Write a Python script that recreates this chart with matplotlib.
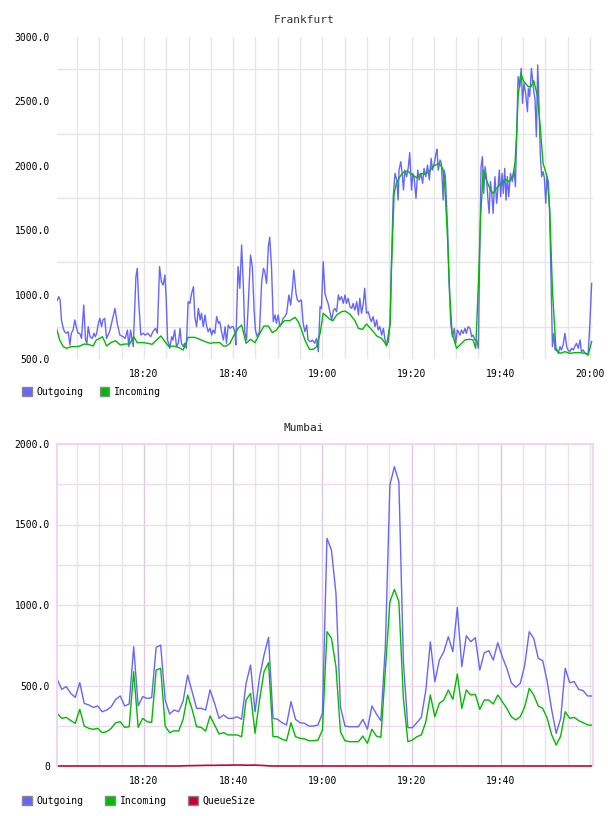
import numpy as np
import matplotlib
matplotlib.use('Agg')
import matplotlib.pyplot as plt
from matplotlib.patches import Patch
from matplotlib.ticker import FuncFormatter

# times are minutes after 18:00
fra_out_t = [0.4, 0.9, 1.2, 1.5, 1.9, 2.2, 2.6, 3.0, 3.4, 3.7, 4.1, 4.5, 4.9, 5.2, 5.6, 6.0, 6.5, 6.9, 7.2, 7.5,
             7.9, 8.4, 8.8, 9.1, 9.4, 9.7, 10.1, 10.5, 10.8, 11.2, 11.6, 12.3, 12.9, 13.5, 14.0, 14.6, 15.3, 15.8,
             16.3, 16.6, 17.0, 17.6, 18.2, 18.5, 18.8, 19.3, 19.8, 20.3, 20.9, 21.5, 22.0, 22.6, 23.0, 23.5, 23.9,
             24.3, 24.7, 25.0, 25.3, 25.8, 26.2, 26.5, 26.9, 27.3, 27.7, 28.1, 28.4, 28.8, 29.1, 29.5, 29.9,
             30.3, 30.7, 31.1, 31.4, 31.8, 32.2, 32.6, 32.9, 33.3, 33.7, 34.0, 34.4, 34.8, 35.2, 35.5, 35.9, 36.3,
             36.7, 37.0, 37.4, 37.8, 38.2, 38.5, 38.9, 39.3, 39.7, 40.0, 40.4, 40.6, 41.1, 41.5, 41.9, 42.3, 42.6,
             43.0, 43.4, 43.9, 44.3, 44.7, 45.0, 45.4, 45.9, 46.4, 46.8, 47.1, 47.5, 47.9, 48.2, 48.6, 49.0, 49.4,
             49.7, 50.1, 50.5, 50.9, 51.2, 51.6, 52.0, 52.5, 52.9, 53.3, 53.6, 54.1, 54.4, 54.8, 55.3, 55.7, 56.1,
             56.5, 56.8, 57.4, 57.8, 58.3, 58.7, 59.1, 59.5, 59.8, 60.2,
             60.6, 61.0, 61.3, 61.7, 62.1, 62.5, 62.8, 63.2, 63.6, 63.9, 64.3, 64.7, 65.1, 65.4, 65.8, 66.2, 66.6,
             66.9, 67.3, 67.7, 68.1, 68.4, 68.8, 69.2, 69.5, 69.9, 70.3, 70.7, 71.0, 71.4, 71.8, 72.2, 72.5, 72.9,
             73.3, 73.7, 74.0, 74.4, 74.8, 75.2, 75.5, 75.9, 76.3, 76.7, 77.0, 77.2, 77.6, 77.9, 78.2, 78.5, 78.9,
             79.3, 79.6, 80.0, 80.3, 80.6, 81.0, 81.4, 81.7, 82.1, 82.5, 82.8, 83.2, 83.6, 84.0, 84.4, 84.7, 85.1,
             85.5, 85.7, 86.0, 86.4, 86.7, 87.1, 87.3, 87.6, 88.1, 88.4, 88.8, 89.2, 89.6, 89.9, 90.3,
             90.9, 91.2, 91.6, 92.0, 92.3, 92.7, 93.1, 93.5, 93.8, 94.2, 94.6, 95.0, 95.2, 95.6, 95.9, 96.2, 96.5,
             96.8, 97.1, 97.4, 97.7, 98.0, 98.3, 98.7, 99.1, 99.4, 99.7, 100.0, 100.3, 100.6, 100.9, 101.2, 101.5,
             101.8, 102.2, 102.6, 103.0, 103.3, 103.6, 103.9, 104.3, 104.6, 104.9, 105.2, 105.6, 106.0, 106.2,
             106.5, 106.9, 107.3, 107.7, 108.0, 108.3, 108.6, 108.9, 109.2, 109.5, 109.8, 110.1, 110.4, 110.7,
             111.0, 111.3, 111.6, 111.9, 112.2, 112.5, 112.9, 113.3, 113.6, 114.0, 114.4, 114.8, 115.1, 115.5,
             115.9, 116.3, 116.6, 117.0, 117.4, 117.8, 118.1, 118.5, 118.9, 119.3, 119.6, 120.0, 120.4]
fra_out = [945, 984, 958, 803, 738, 712, 700, 712, 609, 700, 725, 803, 738, 700, 700, 660, 919, 647, 622, 751,
           673, 660, 700, 673, 700, 764, 816, 751, 803, 816, 660, 712, 803, 893, 777, 686, 673, 660,
           725, 596, 725, 596, 1139, 1204, 958, 686, 700, 686, 700, 673, 712, 738, 700, 1217, 1100,
           1074, 1152, 958, 647, 583, 673, 647, 725, 596, 622, 738, 622, 596, 622, 583, 945,
           932, 1010, 1062, 829, 751, 893, 803, 855, 751, 842, 764, 712, 738, 686, 725, 700, 829,
           777, 790, 712, 647, 751, 622, 764, 738, 751, 751, 712, 609, 1217, 1049, 1385, 1062, 712,
           647, 932, 1307, 1217, 880, 725, 673, 712, 1100, 1204, 1178, 1087, 1372, 1445, 1217, 790, 842,
           777, 842, 751, 777, 816, 829, 855, 997, 919, 1049, 1191, 1010, 958, 945, 958, 777, 712,
           764, 647, 635, 647, 622, 660, 557, 906, 893, 1256,
           1010, 958, 932, 867, 803, 880, 893, 867, 997, 958, 984, 932, 997, 932, 971, 906, 893,
           932, 880, 945, 842, 971, 855, 932, 1049, 855, 867, 816, 790, 829, 751, 803, 725, 751,
           686, 738, 660, 609, 635, 777, 1243, 1760, 1941, 1890, 1734, 1967, 2032, 1941, 1812, 1967, 1916,
           1993, 2102, 1812, 1941, 1903, 1747, 1967, 1890, 1941, 1864, 1980, 1916, 2006, 1890, 2058, 1967, 2019,
           2097, 2128, 1967, 2045, 2019, 1734, 1967, 1916, 1502, 1113, 777, 673, 738, 622, 725,
           686, 725, 699, 738, 699, 751, 738, 673, 686, 648, 648, 583, 1087, 1993, 2071, 1786, 1993,
           1916, 1760, 1631, 1877, 1786, 1631, 1916, 1709, 1838, 1967, 1760, 1941, 1786, 1980, 1734, 1916,
           1760, 1941, 1877, 1967, 1838, 2252, 2692, 2614, 2757, 2485, 2640, 2563, 2420, 2601,
           2537, 2757, 2614, 2511, 2226, 2783, 2459, 2071, 1916, 1955, 1903, 1709, 1916, 1877,
           1605, 1087, 596, 699, 570, 583, 544, 596, 570, 609, 699, 596, 570, 557,
           583, 570, 596, 622, 583, 648, 557, 570, 544, 544, 531, 777, 1087]

fra_in_t = [0.4, 1.1, 1.9, 2.6, 3.7, 4.9, 5.6, 6.6, 7.5, 8.6, 9.3, 10.1, 10.7, 11.2, 11.6, 12.6, 13.6, 14.7,
            15.7, 16.8, 17.7, 18.5, 19.8, 20.9, 21.8, 22.8, 23.8, 24.7, 25.6, 26.5, 27.7, 28.8, 29.1, 29.9,
            31.4, 32.5, 33.7, 34.8, 35.9, 37.0, 37.8, 38.5, 39.3, 40.0, 41.1, 41.9, 42.9, 43.9, 44.9, 46.0,
            46.9, 47.9, 48.8, 49.7, 50.5, 51.6, 52.7, 53.9, 54.6, 55.3, 56.1, 57.1, 58.0, 58.7, 59.5, 60.2,
            60.6, 61.7, 62.4, 63.2, 64.3, 65.1, 66.2, 67.3, 68.1, 69.0, 69.9, 71.0, 72.2, 73.3, 74.0, 74.4,
            75.2, 75.5, 76.1, 76.6, 77.4, 78.1, 79.1, 80.2, 81.1, 82.1, 83.0, 83.9, 84.9, 86.2, 87.0, 87.5,
            88.1, 88.6, 89.1, 90.1, 90.85, 92.0, 93.1, 93.8, 94.4, 95.0, 95.5, 96.1, 96.8, 97.7, 98.3, 99.1,
            100.0, 101.0, 101.9, 102.7, 103.2, 103.6, 103.9, 104.5, 105.2, 106.2, 106.8, 107.4, 108.2,
            108.8, 109.5, 110.4, 111.0, 111.6, 112.4, 113.3, 114.4, 115.5, 116.6, 117.8, 118.9, 119.6, 120.4]
fra_in = [738, 647, 596, 583, 596, 596, 601, 616, 614, 601, 647, 660, 673, 635, 601, 627, 642, 609,
          616, 616, 673, 627, 627, 622, 614, 647, 679, 635, 596, 601, 591, 570, 596, 668,
          668, 653, 635, 622, 627, 627, 601, 601, 622, 673, 738, 764, 622, 653, 627, 699,
          756, 756, 704, 725, 764, 798, 798, 823, 790, 730, 647, 575, 575, 596, 699, 855,
          842, 808, 798, 842, 867, 873, 847, 798, 738, 730, 772, 730, 679, 660, 627, 601,
          777, 1191, 1786, 1864, 1916, 1949, 1960, 1929, 1908, 1941, 1934, 1954, 1998, 2019, 1980, 1825,
          1424, 984, 699, 583, 609, 648, 653, 648, 583, 1087, 1605, 1967, 1890, 1812, 1786, 1825,
          1864, 1895, 1877, 1916, 2019, 2252, 2537, 2718, 2653, 2614, 2614, 2661, 2550,
          2330, 2019, 1916, 1657, 1036, 570, 544, 557, 544, 549, 549, 544, 531, 635]

# Mumbai, one sample per minute from 18:00:34
mum_start = 0.56
mum_step = 1.008
mum_out = [538, 476, 493, 451, 426, 518, 389, 379, 364, 373,
           337, 348, 368, 414, 435, 373, 385, 741, 373, 431,
           420, 424, 737, 751, 410, 323, 348, 337, 404, 565,
           462, 358, 358, 348, 472, 389, 296, 317, 296, 296,
           306, 290, 513, 627, 337, 551, 689, 799, 296, 290,
           269, 255, 400, 290, 269,
           265, 248, 248, 255, 327, 1414, 1341, 1072, 368, 248,
           244, 244, 244, 290, 228, 373, 323, 282, 750, 1745,
           1859, 1766, 650, 238, 238, 269, 302, 472, 772, 524,
           658, 710, 803, 710, 985, 617, 809, 772, 797, 596,
           704, 716, 658, 766, 679, 607, 518, 489, 513, 627,
           834, 793, 669, 654, 524, 348, 203, 296, 607, 518,
           524, 476, 468, 435, 435]
mum_in = [327, 296, 302, 282, 265, 352, 248, 234, 228, 234,
          207, 213, 234, 269, 275, 240, 244, 586, 240, 296,
          275, 271, 596, 607, 248, 207, 219, 217, 290, 441,
          352, 244, 240, 217, 311, 255, 199, 207, 193, 193,
          193, 182, 410, 451, 203, 410, 586, 642, 182, 182,
          166, 157, 269, 182, 172,
          168, 157, 157, 161, 224, 834, 793, 617, 213, 157,
          151, 151, 151, 186, 141, 228, 186, 178, 600, 1020,
          1097, 1020, 420, 151, 161, 182, 193, 275, 441, 306,
          389, 410, 472, 414, 571, 358, 472, 441, 445, 352,
          410, 410, 385, 441, 400, 358, 306, 286, 306, 368,
          482, 441, 373, 358, 296, 193, 130, 186, 337, 296,
          302, 282, 269, 255, 253]
mum_queue = [0] * 28 + [1, 2, 2, 3, 3, 4, 4, 4, 5, 5, 5, 6, 6, 6, 5, 5, 6, 4, 3, 1] + [0] * 72

OUT_C = '#6666ff'
IN_C = '#00bb00'
Q_C = '#cc0033'
MONO = 'DejaVu Sans Mono'


def hhmm(x, pos):
    m = int(round(x))
    return '%d:%02d' % (18 + m // 60, m % 60)


def style_axis(ax):
    ax.set_xlim(0.5, 120.7)
    ax.set_xticks(np.arange(5, 121, 5), minor=True)
    ax.xaxis.set_major_formatter(FuncFormatter(hhmm))
    ax.tick_params(which='both', length=0, labelsize=7)
    ax.tick_params(axis='y', pad=5)
    ax.tick_params(axis='x', pad=7)
    for lab in ax.get_xticklabels() + ax.get_yticklabels():
        lab.set_family(MONO)
    ax.set_axisbelow(True)


fig = plt.figure(figsize=(6.08, 8.16), dpi=100)

# ---- Frankfurt
ax1 = fig.add_axes([57 / 608, 1 - 359 / 816, 536 / 608, 322 / 816])
ax1.plot(fra_out_t, fra_out, color=OUT_C, lw=1.0)
ax1.plot(fra_in_t, fra_in, color=IN_C, lw=1.0)
ax1.set_ylim(500, 3000)
ax1.set_yticks(np.arange(500, 3001, 500))
ax1.set_yticklabels(['%.1f' % v for v in np.arange(500, 3001, 500)])
ax1.set_yticks(np.arange(750, 3000, 500), minor=True)
ax1.set_xticks([20, 40, 60, 80, 100, 120])
style_axis(ax1)
ax1.grid(True, which='both', axis='x', color='#e6e6e6', lw=1.0)
ax1.grid(True, which='minor', axis='y', color='#e6e6e6', lw=1.0)
for s in ax1.spines.values():
    s.set_visible(False)

fig.text(0.5, 1 - 20 / 816, 'Frankfurt', ha='center', va='center', fontsize=8,
         color='#333333', family=MONO)
fig.legend(handles=[Patch(facecolor=OUT_C, edgecolor='#888888', label='Outgoing'),
                    Patch(facecolor=IN_C, edgecolor='#888888', label='Incoming')],
           loc='upper left', bbox_to_anchor=(22 / 608, 1 - 387 / 816), ncol=2, frameon=False,
           prop={'family': MONO, 'size': 7}, handlelength=1.0, handleheight=1.0,
           handletextpad=0.5, columnspacing=1.65, borderpad=0, borderaxespad=0)

# ---- Mumbai
mum_t = mum_start + mum_step * np.arange(len(mum_out))
ax2 = fig.add_axes([57 / 608, 1 - 766 / 816, 536 / 608, 322 / 816])
ax2.plot(mum_t, mum_out, color=OUT_C, lw=1.0)
ax2.plot(mum_t, mum_in, color=IN_C, lw=1.0)
ax2.plot(mum_t, mum_queue, color=Q_C, lw=1.2, clip_on=False)
ax2.set_ylim(0, 2000)
ax2.set_yticks(np.arange(0, 2001, 500))
ax2.set_yticklabels(['0'] + ['%.1f' % v for v in np.arange(500, 2001, 500)])
ax2.set_yticks(np.arange(250, 2000, 500), minor=True)
ax2.set_xticks([20, 40, 60, 80, 100])
style_axis(ax2)
ax2.grid(True, which='minor', axis='x', color='#e8e4e8', lw=1.0)
ax2.grid(True, which='major', axis='x', color='#dcc8e0', lw=1.0)
ax2.grid(True, which='both', axis='y', color='#ecdcec', lw=1.0)
for side in ['left', 'top', 'right']:
    ax2.spines[side].set_color('#ecd8f0')
    ax2.spines[side].set_linewidth(1.5)
ax2.spines['bottom'].set_visible(False)

fig.text(0.5, 1 - 428 / 816, 'Mumbai', ha='center', va='center', fontsize=8,
         color='#222222', family=MONO)
fig.legend(handles=[Patch(facecolor=OUT_C, edgecolor='#888888', label='Outgoing'),
                    Patch(facecolor=IN_C, edgecolor='#888888', label='Incoming'),
                    Patch(facecolor=Q_C, edgecolor='#888888', label='QueueSize')],
           loc='upper left', bbox_to_anchor=(22 / 608, 1 - 796 / 816), ncol=3, frameon=False,
           prop={'family': MONO, 'size': 7}, handlelength=1.0, handleheight=1.0,
           handletextpad=0.5, columnspacing=2.2, borderpad=0, borderaxespad=0)

fig.savefig('out.png', dpi=100)
